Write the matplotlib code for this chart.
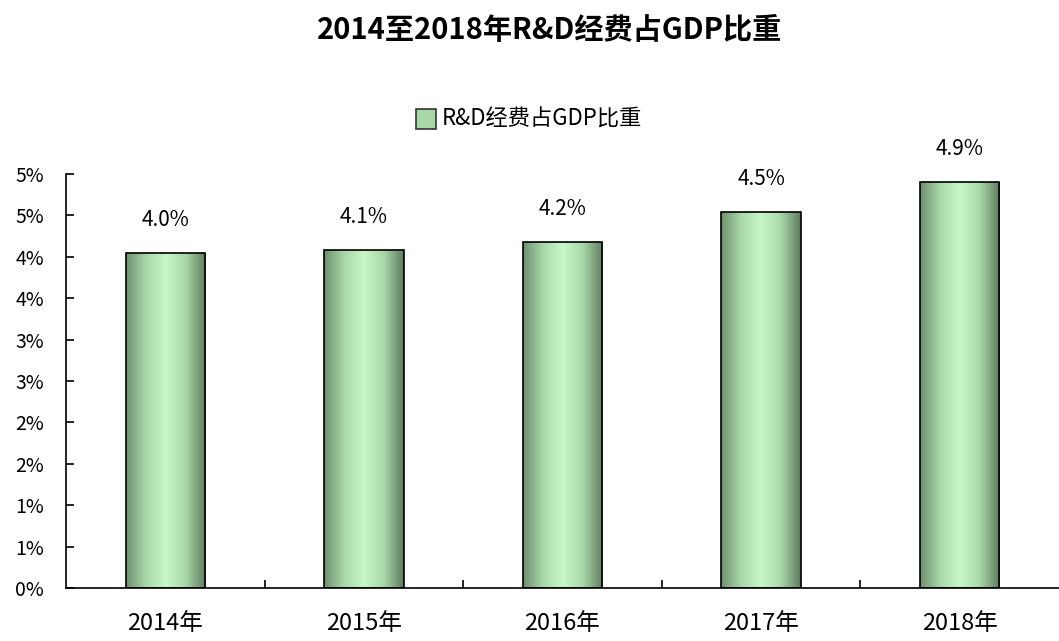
import numpy as np
import matplotlib.pyplot as plt
from matplotlib.colors import LinearSegmentedColormap
from matplotlib.ticker import FuncFormatter

plt.rcParams['font.family'] = ['Noto Sans CJK SC', 'DejaVu Sans']

years = ['2014年', '2015年', '2016年', '2017年', '2018年']
ratio = [4.04, 4.08, 4.18, 4.54, 4.90]  # R&D经费占GDP比重, %
series_name = 'R&D经费占GDP比重'
title = '2014至2018年R&D经费占GDP比重'

# dark edge -> light centre -> dark edge
green_cmap = LinearSegmentedColormap.from_list(
    'bargreen', ['#6f8f6f', '#a8d8a8', '#c8f8c8', '#a8d8a8', '#5f7a5f'])

fig = plt.figure(figsize=(10.59, 6.41), dpi=100)
ax = fig.add_axes([66/1059, 1-588/641, 993/1059, (588-174)/641])

x = np.arange(len(years))
bars = ax.bar(x, ratio, width=0.4, color='none', edgecolor='black', linewidth=1.2, zorder=3)
grad = np.linspace(0, 1, 256).reshape(1, -1)
for b in bars:
    bx, by = b.get_x(), b.get_y()
    im = ax.imshow(grad, cmap=green_cmap, aspect='auto', zorder=2,
                   extent=[bx, bx+b.get_width(), by, by+b.get_height()])
    im.set_clip_path(b)
for xi, v in zip(x, ratio):
    ax.text(xi, v + 0.27, '{:.1f}%'.format(v), ha='center', va='bottom', fontsize=15)

ax.set_xlim(-0.5, len(years)-0.5)
ax.set_ylim(0, 5.0)
ax.set_yticks(np.arange(0, 5.01, 0.5))
# excel style: halves round up
ax.yaxis.set_major_formatter(FuncFormatter(lambda v, p: '{:d}%'.format(int(np.floor(v + 0.5)))))
ax.set_xticks(x)
ax.set_xticklabels(years, fontsize=17)
ax.set_xticks(np.arange(0.5, len(years)-0.5, 1), minor=True)
ax.tick_params(axis='x', which='major', length=0, pad=17)
ax.tick_params(axis='x', which='minor', direction='in', length=6, width=1.2)
ax.tick_params(axis='y', direction='in', length=6, width=1.2, labelsize=14, pad=16)
for s in ['top', 'right']:
    ax.spines[s].set_visible(False)
for s in ['left', 'bottom']:
    ax.spines[s].set_linewidth(1.2)

# legend
fig.patches.append(plt.Rectangle((416/1059, 1-129/641), 20/1059, 20/641, transform=fig.transFigure,
                                 facecolor='#a8d8a8', edgecolor='#333333', linewidth=1.2))
fig.text(442/1059, 1-119/641, series_name, ha='left', va='center', fontsize=16)

fig.text(550/1059, 1-30/641, title, ha='center', va='center', fontsize=21, fontweight='bold')

fig.savefig('out.png', dpi=100)
